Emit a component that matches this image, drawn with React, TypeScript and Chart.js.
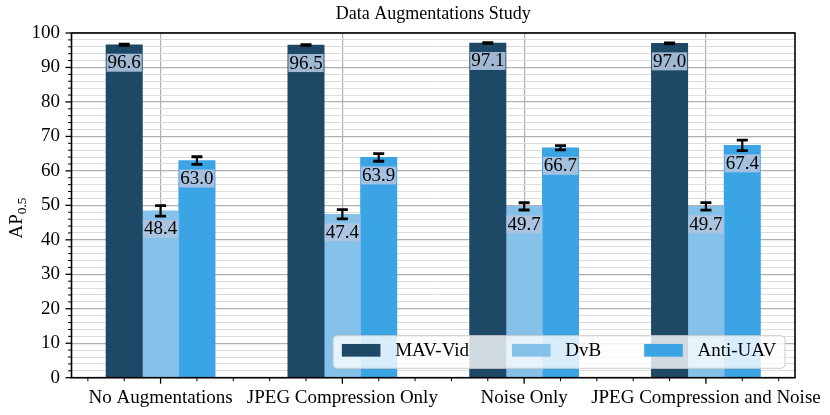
import { useEffect, useRef } from "react";
import { Chart, registerables } from "chart.js";
import type { Plugin } from "chart.js";

Chart.register(...registerables);

// ---- data ----
const categories = [
  "No Augmentations",
  "JPEG Compression Only",
  "Noise Only",
  "JPEG Compression and Noise",
];
const seriesNames = ["MAV-Vid", "DvB", "Anti-UAV"];
const mavVid = [96.6, 96.5, 97.1, 97.0];
const dvb = [48.4, 47.4, 49.7, 49.7];
const antiUav = [63.0, 63.9, 66.7, 67.4];
const mavVidErr = [0.2, 0.1, 0.1, 0.15];
const dvbErr = [1.5, 1.35, 1.05, 1.1];
const antiUavErr = [1.1, 1.1, 0.6, 1.5];
const yTicks = [0, 10, 20, 30, 40, 50, 60, 70, 80, 90, 100];

const values = [mavVid, dvb, antiUav];
const errors = [mavVidErr, dvbErr, antiUavErr];
const colors = ["#1d4866", "#85c1e9", "#3ba4e4"];

const FONT = "'Liberation Serif', 'Times New Roman', serif";
const BAR_W = 0.2; // bar width in category units

const isInt = (v: number) => Math.abs(v - Math.round(v)) < 1e-6;

// minor x ticks: one per bar width, five per category
const xTickValues: number[] = [];
categories.forEach((_, c) => {
  for (let k = -2; k <= 2; k++) xTickValues.push(c + k * BAR_W);
});
// minor y ticks every 2
const yTickValues: number[] = [];
yTicks.forEach((t, i) => {
  if (i === yTicks.length - 1) {
    yTickValues.push(t);
    return;
  }
  const step = (yTicks[i + 1] - t) / 5;
  for (let k = 0; k < 5; k++) yTickValues.push(t + k * step);
});

const overlayPlugin: Plugin<"bar"> = {
  id: "overlay",
  afterDatasetsDraw(chart) {
    const { ctx, chartArea: a } = chart;
    const xs = chart.scales.x;
    const ys = chart.scales.y;
    ctx.save();

    // error bars
    ctx.strokeStyle = "#000";
    values.forEach((vals, s) => {
      const meta = chart.getDatasetMeta(s);
      vals.forEach((v, i) => {
        const px = meta.data[i].x;
        const hi = ys.getPixelForValue(v + errors[s][i]);
        const lo = ys.getPixelForValue(v - errors[s][i]);
        ctx.lineWidth = 2.2;
        ctx.beginPath();
        ctx.moveTo(px, hi);
        ctx.lineTo(px, lo);
        ctx.stroke();
        ctx.lineWidth = 2.8;
        ctx.beginPath();
        ctx.moveTo(px - 5.5, hi);
        ctx.lineTo(px + 5.5, hi);
        ctx.moveTo(px - 5.5, lo);
        ctx.lineTo(px + 5.5, lo);
        ctx.stroke();
      });
    });

    // value labels inside bars
    ctx.font = `19px ${FONT}`;
    ctx.textAlign = "center";
    ctx.textBaseline = "middle";
    values.forEach((vals, s) => {
      const meta = chart.getDatasetMeta(s);
      vals.forEach((v, i) => {
        const px = meta.data[i].x;
        const top = ys.getPixelForValue(v) + 9;
        const txt = v.toFixed(1);
        const w = ctx.measureText(txt).width + 2;
        ctx.fillStyle = "rgba(176,196,222,0.9)";
        ctx.fillRect(px - w / 2, top, w, 18);
        ctx.fillStyle = "#000";
        ctx.fillText(txt, px, top + 9.5);
      });
    });

    // tick marks
    ctx.strokeStyle = "#000";
    yTickValues.forEach((v) => {
      const major = v % 10 === 0;
      const py = ys.getPixelForValue(v);
      ctx.lineWidth = major ? 1.3 : 1;
      ctx.beginPath();
      ctx.moveTo(a.left, py);
      ctx.lineTo(a.left - (major ? 6 : 3.5), py);
      ctx.stroke();
    });
    xTickValues.forEach((v) => {
      const major = isInt(v);
      const px = xs.getPixelForValue(v);
      ctx.lineWidth = major ? 1.3 : 1;
      ctx.beginPath();
      ctx.moveTo(px, a.bottom);
      ctx.lineTo(px, a.bottom + (major ? 6 : 3.5));
      ctx.stroke();
    });

    // frame
    ctx.lineWidth = 1.6;
    ctx.strokeRect(a.left, a.top, a.right - a.left, a.bottom - a.top);

    // legend, lower right inside the plot
    ctx.font = `19px ${FONT}`;
    ctx.textAlign = "left";
    const pad = 8.7, sw = 38.6, sh = 12.7, gap = 14.7, colGap = 43, h = 32.6;
    const widths = seriesNames.map((n) => ctx.measureText(n).width);
    const total =
      pad * 2 + widths.reduce((t, w) => t + sw + gap + w, 0) + colGap * (seriesNames.length - 1);
    const right = a.right - 10;
    const bottom = a.bottom - 9.4;
    const left = right - total;
    const top = bottom - h;
    ctx.beginPath();
    ctx.roundRect(left, top, total, h, 4);
    ctx.fillStyle = "rgba(255,255,255,0.8)";
    ctx.fill();
    ctx.strokeStyle = "#cccccc";
    ctx.lineWidth = 1;
    ctx.stroke();
    let cx = left + pad;
    const cy = top + h / 2;
    seriesNames.forEach((n, s) => {
      ctx.fillStyle = colors[s];
      ctx.fillRect(cx, cy - 1.7 - sh / 2, sw, sh);
      ctx.fillStyle = "#000";
      ctx.fillText(n, cx + sw + gap, cy - 1.2);
      cx += sw + gap + widths[s] + colGap;
    });

    // y axis title with subscript
    ctx.translate(22, 218);
    ctx.rotate(-Math.PI / 2);
    ctx.textBaseline = "alphabetic";
    ctx.font = `19px ${FONT}`;
    const wAP = ctx.measureText("AP").width;
    ctx.font = `13.3px ${FONT}`;
    const wSub = ctx.measureText("0.5").width;
    const x0 = -(wAP + wSub) / 2;
    ctx.fillStyle = "#000";
    ctx.font = `19px ${FONT}`;
    ctx.fillText("AP", x0, 0);
    ctx.font = `13.3px ${FONT}`;
    ctx.fillText("0.5", x0 + wAP, 4);

    ctx.restore();
  },
};

const App = () => {
  const chartRef = useRef<HTMLCanvasElement>(null);

  useEffect(() => {
    const canvas = chartRef.current;
    if (!canvas) return;

    const chart = new Chart(canvas, {
      type: "bar",
      data: {
        datasets: seriesNames.map((name, s) => ({
          label: name,
          data: values[s].map((v, i) => ({ x: i + (s - 1) * BAR_W, y: v })),
          backgroundColor: colors[s],
          borderWidth: 0,
          grouped: false,
          categoryPercentage: 1,
          barPercentage: 1,
        })),
      },
      options: {
        responsive: false,
        animation: false,
        layout: { padding: { left: 0, right: 35, top: 0, bottom: 0 } },
        plugins: {
          legend: { display: false },
          tooltip: { enabled: false },
          title: {
            display: true,
            text: "Data Augmentations Study",
            fullSize: false,
            color: "#000",
            font: { family: FONT, size: 18, weight: "normal" },
            padding: { top: 3, bottom: 8.4 },
          },
        },
        scales: {
          x: {
            type: "linear",
            min: -0.49,
            max: 3.49,
            offset: false,
            border: { display: false },
            grid: {
              offset: false,
              drawTicks: false,
              lineWidth: 1.2,
              color: (c: any) =>
                c.tick && isInt(c.tick.value) ? "#b0b0b0" : "rgba(0,0,0,0)",
            },
            ticks: {
              autoSkip: false,
              maxRotation: 0,
              minRotation: 0,
              padding: 8.5,
              color: "#000",
              font: { family: FONT, size: 19 },
              callback: (v: any) => (isInt(Number(v)) ? categories[Math.round(Number(v))] : ""),
            },
            afterBuildTicks: (axis: any) => {
              axis.ticks = xTickValues.map((value) => ({ value }));
            },
            afterFit: (axis: any) => {
              axis.height = 37.3;
            },
          },
          y: {
            min: 0,
            max: 100,
            border: { display: false },
            grid: {
              drawTicks: false,
              lineWidth: (c: any) => (c.tick && c.tick.value % 10 === 0 ? 1.2 : 1),
              color: (c: any) => (c.tick && c.tick.value % 10 === 0 ? "#b0b0b0" : "#dddddd"),
            },
            ticks: {
              autoSkip: false,
              padding: 11.5,
              color: "#000",
              font: { family: FONT, size: 19 },
              callback: (v: any) => (Number(v) % 10 === 0 ? String(v) : ""),
            },
            afterBuildTicks: (axis: any) => {
              axis.ticks = yTickValues.map((value) => ({ value }));
            },
            afterFit: (axis: any) => {
              axis.width = 71.5;
            },
          },
        },
      },
      plugins: [overlayPlugin],
    });

    return () => {
      chart.destroy();
    };
  }, []);

  return (
    <div style={{ position: "absolute", left: 0, top: 0, width: 830, height: 415 }}>
      <canvas ref={chartRef} width={830} height={415} />
    </div>
  );
};

export default App;
